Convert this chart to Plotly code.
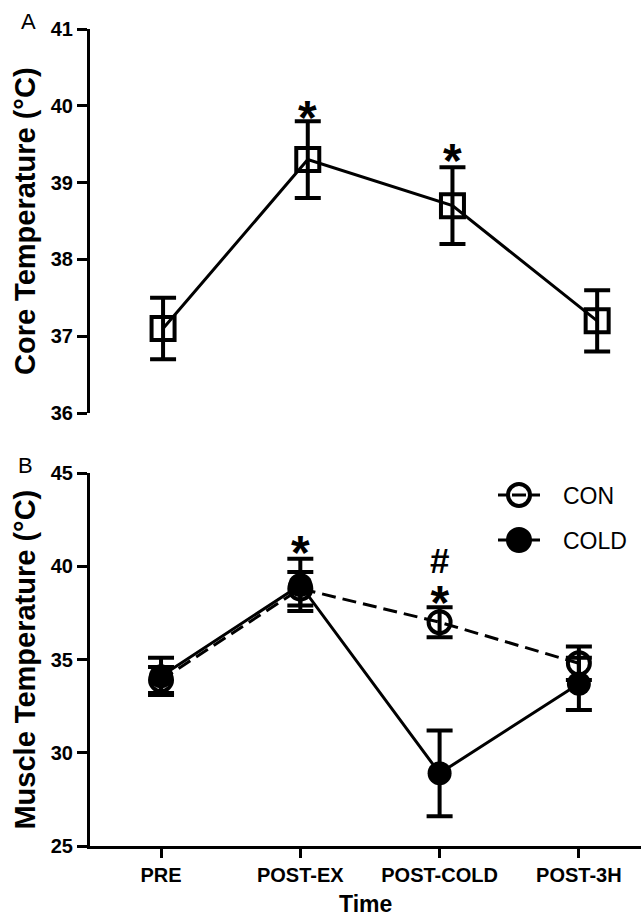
import plotly.graph_objects as go

# ---- data ----
time_labels = ["PRE", "POST-EX", "POST-COLD", "POST-3H"]
x_idx = [0, 1, 2, 3]

core_mean = [37.1, 39.3, 38.7, 37.2]
core_err = [0.4, 0.5, 0.5, 0.4]

con_mean = [33.9, 38.8, 37.0, 34.8]
con_err = [0.7, 0.9, 0.8, 0.9]

cold_mean = [34.1, 39.0, 28.9, 33.7]
cold_err = [1.0, 1.4, 2.3, 1.4]

FONT = "Liberation Sans"
W, H, L = 641, 918, 90


def px_x(px):
    return (px - L) / (W - L)


def px_y(py):
    return 1 - py / H


fig = go.Figure()

# Panel A
fig.add_trace(go.Scatter(
    x=x_idx, y=core_mean, mode="lines+markers",
    line=dict(color="black", width=3),
    marker=dict(symbol="square-open", size=23, color="black", line=dict(width=4, color="black")),
    error_y=dict(type="data", array=core_err, color="black", thickness=4, width=13),
    showlegend=False, xaxis="x", yaxis="y"))

# Panel B
fig.add_trace(go.Scatter(
    x=x_idx, y=con_mean, mode="lines+markers", name="CON",
    line=dict(color="black", width=3, dash="14px,7px"),
    marker=dict(symbol="circle-open", size=22, color="black", line=dict(width=4, color="black")),
    error_y=dict(type="data", array=con_err, color="black", thickness=4, width=13),
    showlegend=False, xaxis="x2", yaxis="y2"))
fig.add_trace(go.Scatter(
    x=x_idx, y=cold_mean, mode="lines+markers", name="COLD",
    line=dict(color="black", width=3),
    marker=dict(symbol="circle", size=24, color="black"),
    error_y=dict(type="data", array=cold_err, color="black", thickness=4, width=13),
    showlegend=False, xaxis="x2", yaxis="y2"))

tickfont = dict(family=FONT, size=20, color="black", weight="bold")

fig.update_layout(
    width=W, height=H,
    margin=dict(l=L, r=0, t=0, b=0),
    paper_bgcolor="white", plot_bgcolor="white",
    font=dict(family=FONT, color="black"),
    showlegend=False,
    xaxis=dict(domain=[0, 1], range=[-0.505, 3.303], showline=False, showgrid=False,
               zeroline=False, showticklabels=False, ticks="", anchor="y"),
    yaxis=dict(domain=[0.5501, 0.9684], range=[36, 41], tickvals=[36, 37, 38, 39, 40, 41],
               showline=True, linecolor="black", linewidth=3, ticks="outside", ticklen=10,
               tickwidth=3, tickcolor="black", showgrid=False, zeroline=False,
               tickfont=tickfont, anchor="x", automargin=False),
    xaxis2=dict(domain=[0, 1], range=[-0.51, 3.446], tickvals=x_idx, ticktext=time_labels,
                showline=True, linecolor="black", linewidth=3, ticks="outside", ticklen=9,
                tickwidth=3, tickcolor="black", showgrid=False, zeroline=False,
                tickfont=tickfont, anchor="y2", automargin=False),
    yaxis2=dict(domain=[0.0784, 0.4847], range=[25, 45], tickvals=[25, 30, 35, 40, 45],
                showline=True, linecolor="black", linewidth=3, ticks="outside", ticklen=10,
                tickwidth=3, tickcolor="black", showgrid=False, zeroline=False,
                tickfont=tickfont, anchor="x2", automargin=False),
)

# axis titles
title_font = dict(family=FONT, size=29, color="black", weight="bold")
fig.add_annotation(text="Core Temperature (°C)", xref="paper", yref="y domain",
                   x=px_x(25), y=0.5, textangle=-90, xanchor="center", yanchor="middle",
                   showarrow=False, font=title_font)
fig.add_annotation(text="Muscle Temperature (°C)", xref="paper", yref="y2 domain",
                   x=px_x(25), y=0.5, textangle=-90, xanchor="center", yanchor="middle",
                   showarrow=False, font=title_font)
fig.add_annotation(text="Time", xref="paper", yref="paper", x=0.5, y=px_y(904),
                   xanchor="center", yanchor="middle", showarrow=False,
                   font=dict(family=FONT, size=23, color="black", weight="bold"))
# panel letters
for letter, lx, ly in [("A", 28, 22), ("B", 25, 465)]:
    fig.add_annotation(text=letter, xref="paper", yref="paper", x=px_x(lx), y=px_y(ly),
                       xanchor="center", yanchor="middle", showarrow=False,
                       font=dict(family=FONT, size=22, color="black"))

# significance marks
star_font = dict(family=FONT, size=48, color="black", weight="bold")
fig.add_annotation(text="*", x=1, y=39.85, xref="x", yref="y", showarrow=False, yanchor="middle", font=star_font)
fig.add_annotation(text="*", x=2, y=39.29, xref="x", yref="y", showarrow=False, yanchor="middle", font=star_font)
fig.add_annotation(text="*", x=1, y=40.75, xref="x2", yref="y2", showarrow=False, yanchor="middle", font=star_font)
fig.add_annotation(text="#<br><span style='font-size:48px'>*</span>", x=2, y=41.46, xref="x2", yref="y2",
                   showarrow=False, yanchor="top",
                   font=dict(family=FONT, size=35, color="black", weight="bold"))

# legend (drawn manually so the symbols keep full size)
legend_items = [("CON", 495, False), ("COLD", 540, True)]
for name, ly, filled in legend_items:
    y = px_y(ly)
    if filled:
        fig.add_shape(type="line", xref="paper", yref="paper", x0=px_x(498), x1=px_x(540),
                      y0=y, y1=y, line=dict(color="black", width=3))
    else:
        for a, b in [(498, 507), (531, 540), (512, 526)]:
            fig.add_shape(type="line", xref="paper", yref="paper", x0=px_x(a), x1=px_x(b),
                          y0=y, y1=y, line=dict(color="black", width=3))
    fig.add_shape(type="circle", xref="paper", yref="paper",
                  x0=px_x(519 - 11), x1=px_x(519 + 11), y0=px_y(ly + 11), y1=px_y(ly - 11),
                  line=dict(color="black", width=4),
                  fillcolor="black" if filled else "rgba(0,0,0,0)")
    fig.add_annotation(text=name, xref="paper", yref="paper", x=px_x(561), y=px_y(ly + 1),
                       xanchor="left", yanchor="middle", showarrow=False,
                       font=dict(family=FONT, size=23, color="black"))

fig.write_html("out.html", config={"displayModeBar": False},
               post_script="document.body.style.margin='0';document.body.style.padding='0';")
